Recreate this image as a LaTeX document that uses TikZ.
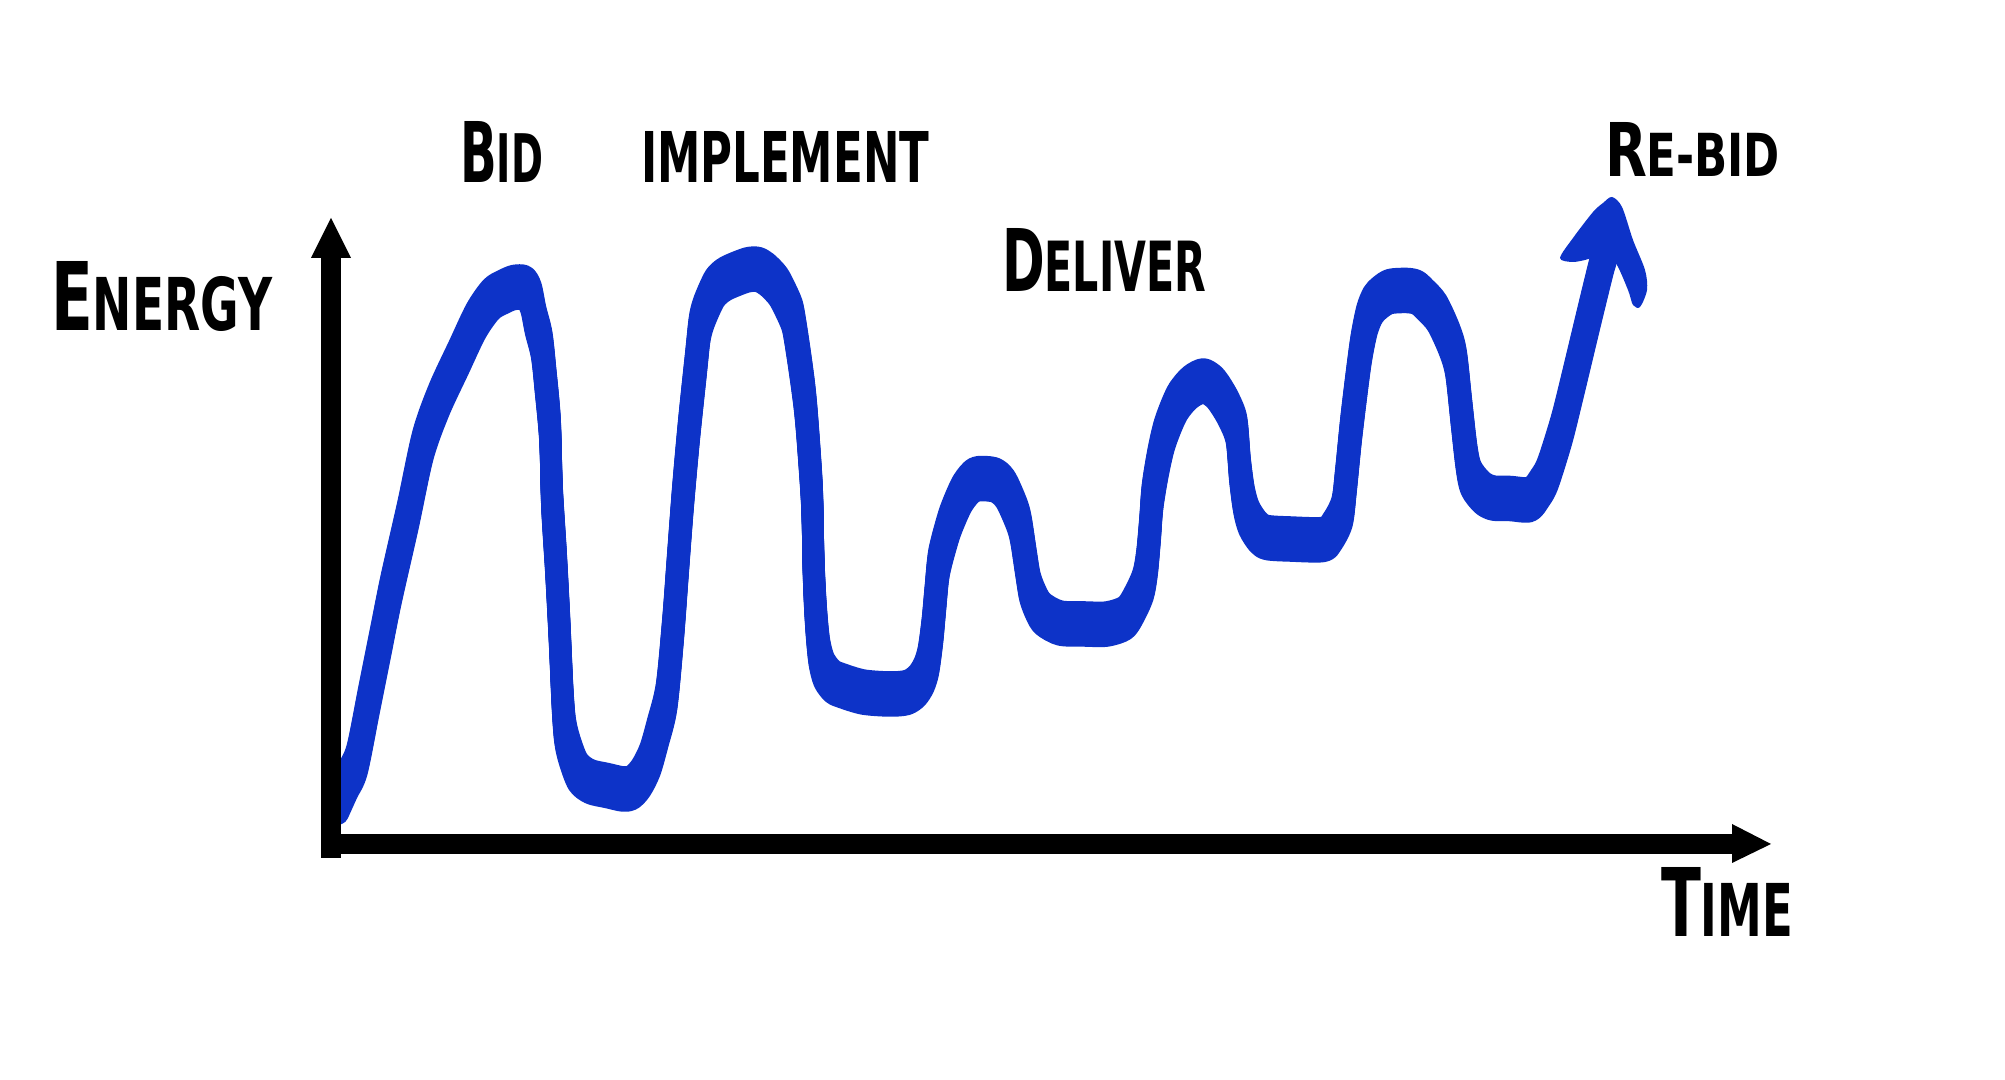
\documentclass[tikz,border=0pt]{standalone}
\usepackage{fontspec}
\setmainfont{DejaVu Sans}
\usepackage{graphicx}
\definecolor{penblue}{RGB}{13,51,200}
\newcommand\bigsmall[3]{\bfseries\fontsize{#3}{#3}\selectfont #1\fontsize{20}{20}\selectfont #2}
\begin{document}
\begin{tikzpicture}[x=0.01cm,y=-0.01cm,
  pen/.style={draw=penblue,line width=0.215cm,line cap=round,line join=round},
  ribbon/.style={fill=penblue},
  axisline/.style={line width=0.205cm,black},
  axishead/.style={fill=black},
  hand/.style={anchor=south west,inner sep=0pt,outer sep=0pt,text=black}]
\useasboundingbox (0,0) rectangle (2005,1080);
\fill[white] (0,0) rectangle (2005,1080);

% energy curve: a flat pen with a vertical nib (midline drawn at vertical offsets)
\foreach \s in {-12,-10,...,12}{
\draw[pen,yshift=\s*0.01cm] plot[smooth,tension=.5] coordinates {
 (338,802) (347,782) (357,760) (369,700) (381,640) (391,590) (408,515) (423,445)
 (439,400) (459,357) (476,321) (491,299.5) (503,292) (514,287.5) (525,288)
 (531,298) (535.5,320) (541.7,345) (545.5,380) (550,430) (552,497) (556,563)
 (559.5,630) (562.5,697) (565,730) (569.5,750) (578,772) (590,781.5) (607,785.5)
 (623,789) (632,787.5) (641,778) (650,760) (657.7,733) (666.5,697) (673,630)
 (678,563) (683,497) (689,430) (696,363) (699.5,330) (703,315) (709,300) (715,288)
 (722,281) (730,276.5) (747,270) (758,269.5) (767,274.5) (778,286) (785.5,300)
 (792,315) (795,330) (800,363) (804.5,397) (807.5,430) (812,497) (813.5,563)
 (815,600) (817,630) (819.5,653) (824,670) (832,681) (840,685) (863,692) (890,694)
 (907,692.5) (917,686) (924,675) (928.5,660) (932.5,630) (935.5,597) (939,563)
 (947.5,530) (953.5,513) (963,492.5) (975,479.5) (993,479.5) (1002,485) (1008,494)
 (1017,515) (1021,530) (1026,563) (1030,587) (1036,603) (1043,614) (1060,623)
 (1085,624) (1107,624) (1125,618) (1134,605) (1143,585) (1147,563) (1150,530)
 (1152.5,497) (1158,463) (1165,433) (1177,403.5) (1190,387.5) (1203,381)
 (1213,386) (1220,394.5) (1229,410) (1236.5,430) (1240,470) (1244,500) (1249,518)
 (1258,532) (1267,537.5) (1290,539) (1323,539.5) (1332,532) (1342,512) (1346,480)
 (1351,430) (1357,380) (1361.5,347) (1367,320) (1373,305) (1380,297.5)
 (1390,291.5) (1407,290.5) (1417,292.5) (1425,299.5) (1437,313) (1449.5,340)
 (1456,363) (1461.5,413) (1466.5,457) (1471,478) (1482,492.5) (1493,498)
 (1510,498.5) (1530,499.5) (1540,488) (1548,473) (1561.5,430) (1572,388)
 (1590,313) (1602.5,262) (1606,250)};
}
% arrow head of the curve
\fill[ribbon] plot[smooth cycle,tension=.5] coordinates {
 (1560,258) (1573,238) (1593,212) (1603,203) (1612,197) (1622,207) (1633,240)
 (1645,270) (1647,290) (1640,307) (1633,305) (1628,290) (1615,262) (1600,256)
 (1585,260) (1572,262)};

% axes
\coordinate (origin) at (331,844);
\coordinate (ytop) at (331,255);
\coordinate (xend) at (1735,844);
\draw[axisline] (331,858) -- (ytop);
\draw[axisline] (321,844) -- (xend);
\fill[axishead] (311,258) -- (331,218) -- (351,258) -- cycle;
\fill[axishead] (1732,824) -- (1771,844) -- (1732,863) -- cycle;

% labels
\node[hand] (energy) at (51,332) {\resizebox{2.21cm}{0.69cm}{\bigsmall{E}{NERGY}{26}}};
\node[hand] (bid) at (460,183) {\resizebox{0.83cm}{0.61cm}{\bigsmall{B}{ID}{25}}};
\node[hand] (implement) at (641,183) {\resizebox{2.88cm}{0.51cm}{\bfseries IMPLEMENT}};
\node[hand] (deliver) at (1002,292) {\resizebox{2.04cm}{0.63cm}{\bigsmall{D}{ELIVER}{25}}};
\node[hand] (rebid) at (1605,177) {\resizebox{1.75cm}{0.54cm}{\bigsmall{R}{E-BID}{25}}};
\node[hand] (time) at (1661,937) {\resizebox{1.32cm}{0.69cm}{\bigsmall{T}{IME}{26}}};
\end{tikzpicture}
\end{document}
